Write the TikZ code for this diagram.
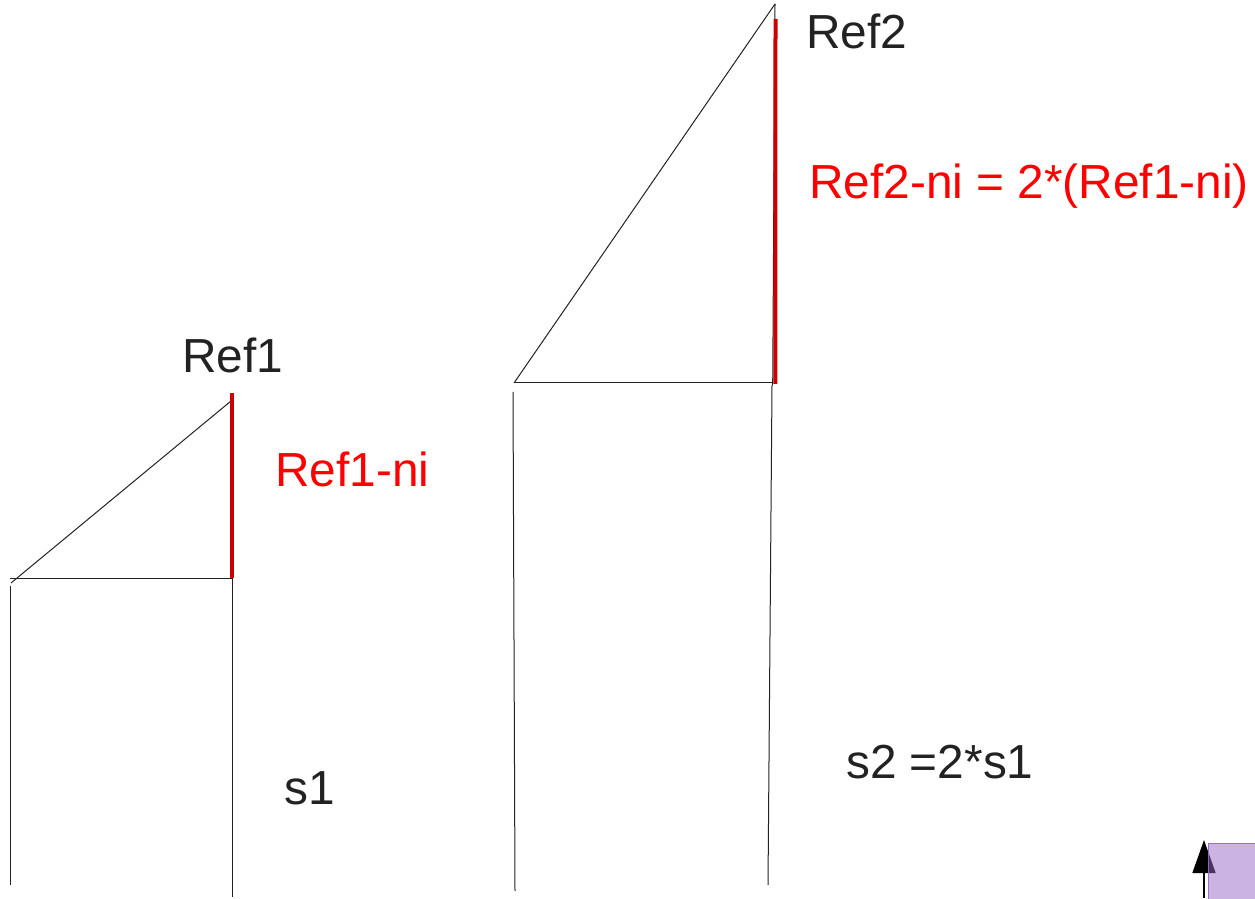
\documentclass[tikz,border=0pt]{standalone}
\usepackage{fontspec}
\setmainfont{Liberation Sans}
\usetikzlibrary{arrows.meta}
\definecolor{txtblack}{HTML}{222222}
\definecolor{lblred}{HTML}{FF0000}
\definecolor{barred}{HTML}{CC0000}
\definecolor{lineblk}{HTML}{222222}
\definecolor{boxpurple}{HTML}{9767C7}
\begin{document}
\begin{tikzpicture}[x=1pt,y=1pt,
  thinline/.style={draw=lineblk,line width=1pt},
  redbar/.style={draw=barred,line width=3.5pt},
  lbl/.style={inner sep=0pt,anchor=base west,font=\fontsize{47.8}{57}\selectfont},
  blacklbl/.style={lbl,text=txtblack},
  redlbl/.style={lbl,text=lblred}]
\useasboundingbox (0,0) rectangle (1255,898);
% left figure coordinates
\coordinate (Lhl) at (10,320);
\coordinate (Lhr) at (232,320);
\coordinate (Ldl) at (11,315);
\coordinate (Ldt) at (231,497);
\coordinate (Lvt) at (10,312);
\coordinate (Lvb) at (10,13);
\coordinate (Rvb) at (232,1);
\coordinate (Lrt) at (232,505);
% right figure coordinates
\coordinate (Bhl) at (514,515);
\coordinate (Bhr) at (773,515);
\coordinate (Bapex) at (775,894);
\coordinate (Bbase) at (772.7,513);
\coordinate (Brt) at (775.5,879);
\coordinate (Brb) at (775.3,514);
\coordinate (Blt) at (513,506);
\coordinate (Blb) at (515,7);
\coordinate (Bvt) at (772,513);
\coordinate (Bvb) at (768,13);
% left figure
\draw[thinline] (Lhl) -- (Lhr);
\draw[thinline] (Ldl) -- (Ldt);
\draw[thinline] (Lvt) -- (Lvb);
\draw[thinline] (Lhr) -- (Rvb);
\draw[redbar] (Lrt) -- (Lhr);
% right figure
\draw[thinline] (Bhl) -- (Bhr);
\draw[thinline] (Bhl) -- (Bapex);
\draw[thinline] (Bapex) -- (Bbase);
\draw[line width=4pt,draw=barred] (Brt) -- (Brb);
\draw[thinline] (Blt) -- (Blb);
\draw[thinline] (Bvt) -- (Bvb);
% labels
\node[blacklbl] (ref1) at (182,525) {Ref1};
\node[redlbl] (ref1ni) at (275,411) {Ref1-ni};
\node[blacklbl] (ref2) at (806,849) {Ref2};
\node[redlbl] (ref2ni) at (809,699) {Ref2-ni = 2*(Ref1-ni)};
\node[blacklbl] (s1) at (284.5,94) {s1};
\node[blacklbl] (s2) at (846,120) {s2 =2*s1};
% bottom-right arrow and box
\coordinate (arrB) at (1204,0);
\coordinate (arrT) at (1204,58);
\draw[line width=1.5pt,-{Triangle[length=33pt,width=23pt]}] (arrB) -- (arrT);
\node[draw=boxpurple,fill=boxpurple,fill opacity=0.5,draw opacity=0.9,line width=1pt,
  minimum width=60pt,minimum height=60pt,anchor=north west,inner sep=0pt] (box) at (1207.5,55.5) {};
\end{tikzpicture}
\end{document}
